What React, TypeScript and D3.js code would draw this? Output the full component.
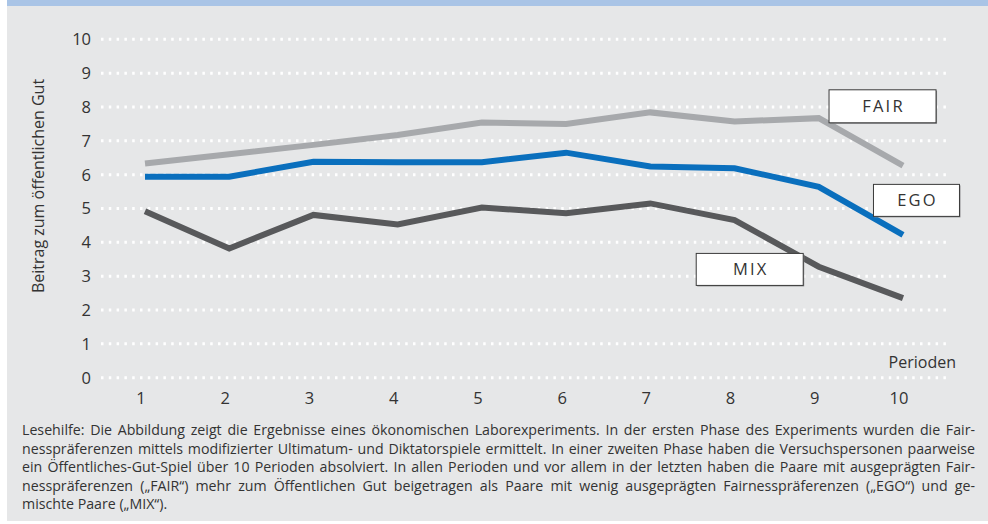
import React, { useLayoutEffect, useRef } from "react";
import * as d3 from "d3";

const periods = [1, 2, 3, 4, 5, 6, 7, 8, 9, 10];
const fairValues = [6.33, 6.6, 6.88, 7.17, 7.54, 7.5, 7.84, 7.57, 7.67, 6.27];
const egoValues = [5.94, 5.94, 6.38, 6.37, 6.37, 6.65, 6.24, 6.19, 5.64, 4.22];
const mixValues = [4.92, 3.82, 4.81, 4.53, 5.03, 4.86, 5.15, 4.66, 3.28, 2.35];
const yTicks = [0, 1, 2, 3, 4, 5, 6, 7, 8, 9, 10];
const seriesNames = ["FAIR", "EGO", "MIX"];
const seriesColors = ["#a7a9ac", "#0a6fbd", "#58595b"];
const yAxisTitle = "Beitrag zum öffentlichen Gut";
const xAxisTitle = "Perioden";
const captionLines = [
  "Lesehilfe: Die Abbildung zeigt die Ergebnisse eines ökonomischen Laborexperiments. In der ersten Phase des Experiments wurden die Fair-",
  "nesspräferenzen mittels modifizierter Ultimatum- und Diktatorspiele ermittelt. In einer zweiten Phase haben die Versuchspersonen paarweise",
  "ein Öffentliches-Gut-Spiel über 10 Perioden absolviert. In allen Perioden und vor allem in der letzten haben die Paare mit ausgeprägten Fair-",
  "nesspräferenzen („FAIR“) mehr zum Öffentlichen Gut beigetragen als Paare mit wenig ausgeprägten Fairnesspräferenzen („EGO“) und ge-",
  "mischte Paare („MIX“).",
];

// label boxes anchored in data coordinates (period, value)
const labelAnchors = [
  { name: "FAIR", period: 9.757, value: 8.02, w: 107, h: 33 },
  { name: "EGO", period: 10.16, value: 5.24, w: 86, h: 32 },
  { name: "MIX", period: 8.18, value: 3.2, w: 107, h: 32 },
];

const W = 988;
const H = 524;
const FONT = "'Open Sans', 'Noto Sans', sans-serif";
const TEXT = "#333333";

export default function App() {
  const capRef = useRef<SVGGElement>(null);

  const x = d3.scaleLinear().domain([1, 10]).range([145, 903]);
  const y = d3.scaleLinear().domain([0, 10]).range([377.7, 39.3]);

  const line = d3
    .line<number>()
    .x((_, i) => x(periods[i]))
    .y((d) => y(d))
    .curve(d3.curveLinear);

  const allSeries = [fairValues, egoValues, mixValues];

  const capLeft = 22;
  const capRight = 975;

  useLayoutEffect(() => {
    const g = capRef.current;
    if (!g) return;
    const texts = Array.from(g.querySelectorAll("text"));
    texts.forEach((t, i) => {
      if (i >= captionLines.length - 1) return;
      const w = (t as SVGTextElement).getComputedTextLength();
      const spaces = (captionLines[i].match(/ /g) || []).length;
      const ws = (capRight - capLeft - w) / Math.max(1, spaces);
      t.setAttribute("word-spacing", String(ws));
    });
  }, []);

  return (
    <svg
      width={W}
      height={H}
      style={{ position: "absolute", left: 0, top: 0, fontFamily: FONT }}
    >
      <rect x={7} y={0} width={W - 7} height={521} fill="#e6e7e8" />
      <rect x={7} y={0} width={W - 7} height={6} fill="#a9c4e6" />

      {/* gridlines */}
      {yTicks.map((t) => (
        <line
          key={"g" + t}
          x1={101}
          x2={951}
          y1={y(t)}
          y2={y(t)}
          stroke="#ffffff"
          strokeWidth={3}
          strokeDasharray="2.5 5.3"
        />
      ))}

      {/* y tick labels */}
      {yTicks.map((t) => (
        <text
          key={"yt" + t}
          x={91}
          y={y(t)}
          dy="0.36em"
          textAnchor="end"
          fontSize={16.5}
          fill={TEXT}
        >
          {t}
        </text>
      ))}

      {/* x tick labels */}
      {periods.map((p) => (
        <text
          key={"xt" + p}
          x={x(p) - 4}
          y={404}
          textAnchor="middle"
          fontSize={16.5}
          fill={TEXT}
        >
          {p}
        </text>
      ))}

      <text
        transform={`translate(44, 186) rotate(-90)`}
        textAnchor="middle"
        fontSize={16}
        fill={TEXT}
      >
        {yAxisTitle}
      </text>

      <text x={956} y={368} textAnchor="end" fontSize={16} fill={TEXT}>
        {xAxisTitle}
      </text>

      {/* lines */}
      {allSeries.map((vals, i) => (
        <path
          key={"l" + i}
          d={line(vals) || ""}
          fill="none"
          stroke={seriesColors[i]}
          strokeWidth={6}
          strokeLinejoin="miter"
          strokeLinecap="butt"
        />
      ))}

      {/* label boxes */}
      {labelAnchors.map((a) => {
        const cx = x(a.period);
        const cy = y(a.value);
        return (
          <g key={a.name}>
            <rect
              x={cx - a.w / 2 + 1}
              y={cy - a.h / 2 + 1}
              width={a.w}
              height={a.h}
              fill="#8a8b8d"
            />
            <rect
              x={cx - a.w / 2}
              y={cy - a.h / 2}
              width={a.w}
              height={a.h}
              fill="#ffffff"
              stroke="#3a3a3a"
              strokeWidth={1}
            />
            <text
              x={cx + 1}
              y={cy}
              dy="0.36em"
              textAnchor="middle"
              fontSize={16.5}
              letterSpacing={2.2}
              fill={TEXT}
            >
              {a.name}
            </text>
          </g>
        );
      })}

      {/* caption */}
      <g ref={capRef}>
        {captionLines.map((l, i) => (
          <text
            key={"c" + i}
            x={capLeft}
            y={435 + i * 18.6}
            fontSize={14.2}
            fill={TEXT}
          >
            {l}
          </text>
        ))}
      </g>
    </svg>
  );
}
